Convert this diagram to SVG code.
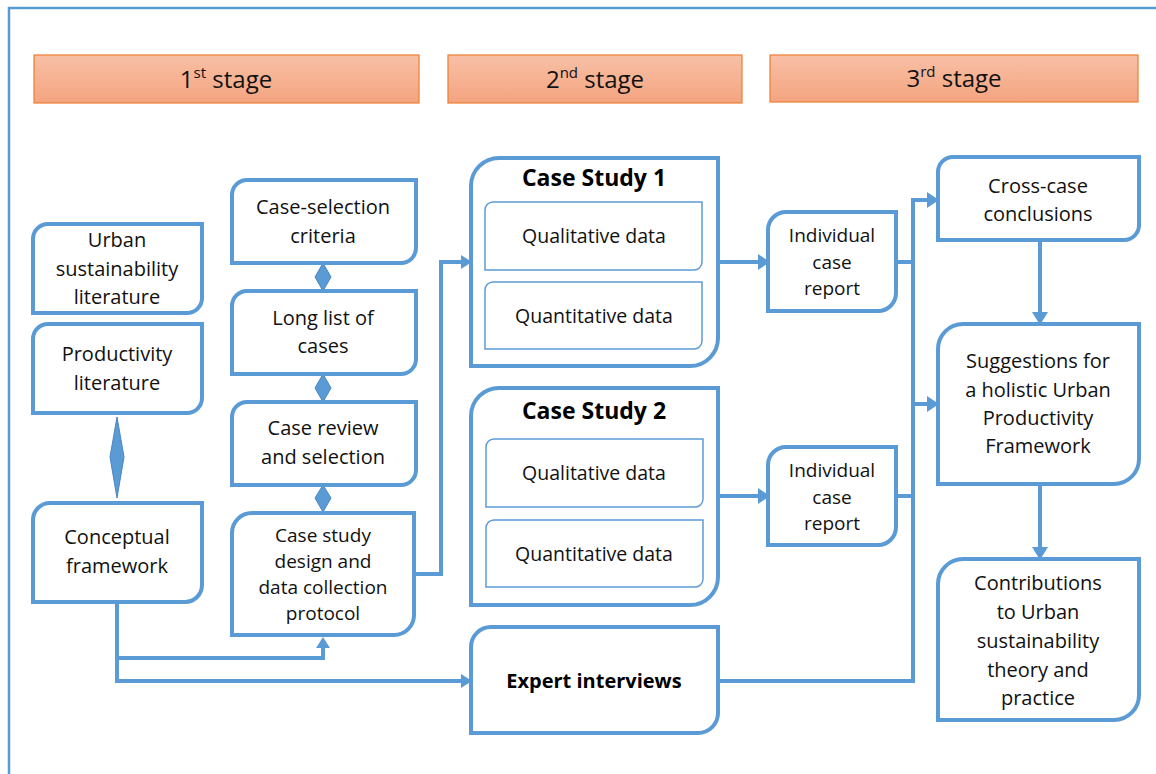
<svg xmlns="http://www.w3.org/2000/svg" width="1156" height="774" viewBox="0 0 1156 774">
<defs>
<linearGradient id="stg" x1="0" y1="0" x2="0" y2="1">
<stop offset="0" stop-color="#F8C0A6"/>
<stop offset="1" stop-color="#F4A47F"/>
</linearGradient>
</defs>
<style>
.box{fill:#fff;stroke:#5B9BD5;stroke-width:4}
.inner{fill:#fff;stroke:#5B9BD5;stroke-width:1.5}
.stage{fill:url(#stg);stroke:#ED7D31;stroke-width:1.2}
.t{font-family:"Open Sans","Noto Sans",sans-serif;font-size:20px;fill:#111;text-anchor:middle}
.ts{font-family:"Open Sans","Noto Sans",sans-serif;font-size:19px;fill:#111;text-anchor:middle}
.tq{font-family:"Open Sans","Noto Sans",sans-serif;font-size:19.5px;fill:#111;text-anchor:middle}
.tb{font-family:"Open Sans","Noto Sans",sans-serif;font-size:23px;font-weight:bold;fill:#000;text-anchor:middle}
.te{font-family:"Open Sans","Noto Sans",sans-serif;font-size:20px;font-weight:bold;fill:#000;text-anchor:middle}
.tst{font-family:"Open Sans","Noto Sans",sans-serif;font-size:24px;fill:#111;text-anchor:middle}
.c{fill:none;stroke:#5B9BD5;stroke-width:4}
.ah{fill:#5B9BD5}
.dia{fill:#5B9BD5;stroke:#4A86C0;stroke-width:1}
</style>
<rect width="1156" height="774" fill="#fff"/>
<path d="M9,774 V8 H1156" fill="none" stroke="#5B9BD5" stroke-width="2.5"/>

<g id="stages">
<rect class="stage" x="34" y="55" width="385" height="48"/>
<text class="tst" x="226" y="88">1<tspan font-size="15" dy="-10">st</tspan><tspan dy="10"> stage</tspan></text>
<rect class="stage" x="448" y="55" width="294" height="48"/>
<text class="tst" x="595" y="88">2<tspan font-size="15" dy="-10">nd</tspan><tspan dy="10"> stage</tspan></text>
<rect class="stage" x="770" y="55" width="368" height="47"/>
<text class="tst" x="954" y="87">3<tspan font-size="15" dy="-10">rd</tspan><tspan dy="10"> stage</tspan></text>
</g>

<g id="connectors">
<path class="c" d="M416,574 H441 V262 H462"/>
<path class="ah" d="M461,255 L472,262 L461,269 Z"/>
<path class="c" d="M117,602 V681 H462"/>
<path class="ah" d="M461,674 L472,681 L461,688 Z"/>
<path class="c" d="M117,658 H323 V647"/>
<path class="ah" d="M316,648 L323,637 L330,648 Z"/>
<path class="c" d="M718,262 H760"/>
<path class="ah" d="M758,254 L770,262 L758,270 Z"/>
<path class="c" d="M718,496 H760"/>
<path class="ah" d="M758,488 L770,496 L758,504 Z"/>
<path class="c" d="M896,262 H913"/>
<path class="c" d="M896,496 H913"/>
<path class="c" d="M718,681 H913 V200 H929"/>
<path class="ah" d="M927,192 L939,200 L927,208 Z"/>
<path class="c" d="M913,404 H929"/>
<path class="ah" d="M927,396 L939,404 L927,412 Z"/>
<path class="c" d="M1040,240 V314"/>
<path class="ah" d="M1032,312 L1040,325 L1048,312 Z"/>
<path class="c" d="M1040,484 V549"/>
<path class="ah" d="M1032,547 L1040,560 L1048,547 Z"/>
<path class="dia" d="M117,417 L124,457 L117,498 L110,457 Z"/>
<path class="dia" d="M323,263 L331,277 L323,291 L315,277 Z"/>
<path class="dia" d="M323,374 L331,388 L323,402 L315,388 Z"/>
<path class="dia" d="M323,485 L331,498 L323,512 L315,498 Z"/>
</g>

<g id="urban-lit">
<path class="box" d="M48,224 H202 V298 A15,15 0 0 1 187,313 H33 V239 A15,15 0 0 1 48,224 Z"/>
<text class="t" x="117" y="247">Urban</text>
<text class="t" x="117" y="276">sustainability</text>
<text class="t" x="117" y="304">literature</text>
</g>
<g id="productivity-lit">
<path class="box" d="M48,324 H202 V398 A15,15 0 0 1 187,413 H33 V339 A15,15 0 0 1 48,324 Z"/>
<text class="t" x="117" y="361">Productivity</text>
<text class="t" x="117" y="390">literature</text>
</g>
<g id="conceptual">
<path class="box" d="M50,503 H202 V585 A17,17 0 0 1 185,602 H33 V520 A17,17 0 0 1 50,503 Z"/>
<text class="t" x="117" y="544">Conceptual</text>
<text class="t" x="117" y="573">framework</text>
</g>
<g id="case-criteria">
<path class="box" d="M247,180 H416 V248 A15,15 0 0 1 401,263 H232 V195 A15,15 0 0 1 247,180 Z"/>
<text class="t" x="323" y="214">Case-selection</text>
<text class="t" x="323" y="243">criteria</text>
</g>
<g id="long-list">
<path class="box" d="M247,291 H416 V359 A15,15 0 0 1 401,374 H232 V306 A15,15 0 0 1 247,291 Z"/>
<text class="t" x="323" y="325">Long list of</text>
<text class="t" x="323" y="353">cases</text>
</g>
<g id="case-review">
<path class="box" d="M247,402 H416 V470 A15,15 0 0 1 401,485 H232 V417 A15,15 0 0 1 247,402 Z"/>
<text class="t" x="323" y="435">Case review</text>
<text class="t" x="323" y="464">and selection</text>
</g>
<g id="case-design">
<path class="box" d="M252,513 H414 V615 A20,20 0 0 1 394,635 H232 V533 A20,20 0 0 1 252,513 Z"/>
<text class="ts" x="323" y="542">Case study</text>
<text class="ts" x="323" y="568">design and</text>
<text class="ts" x="323" y="594">data collection</text>
<text class="ts" x="323" y="620">protocol</text>
</g>
<g id="case-study-1">
<path class="box" d="M499,158 H718 V338 A28,28 0 0 1 690,366 H471 V186 A28,28 0 0 1 499,158 Z"/>
<text class="tb" x="594" y="186">Case Study 1</text>
<path class="inner" d="M493,202 H702 V262 A8,8 0 0 1 694,270 H485 V210 A8,8 0 0 1 493,202 Z"/>
<text class="tq" x="594" y="243">Qualitative data</text>
<path class="inner" d="M493,282 H702 V341 A8,8 0 0 1 694,349 H485 V290 A8,8 0 0 1 493,282 Z"/>
<text class="tq" x="594" y="323">Quantitative data</text>
</g>
<g id="case-study-2">
<path class="box" d="M499,388 H718 V577 A28,28 0 0 1 690,605 H471 V416 A28,28 0 0 1 499,388 Z"/>
<text class="tb" x="594" y="419">Case Study 2</text>
<path class="inner" d="M494,439 H703 V499 A8,8 0 0 1 695,507 H486 V447 A8,8 0 0 1 494,439 Z"/>
<text class="tq" x="594" y="480">Qualitative data</text>
<path class="inner" d="M494,520 H703 V579 A8,8 0 0 1 695,587 H486 V528 A8,8 0 0 1 494,520 Z"/>
<text class="tq" x="594" y="561">Quantitative data</text>
</g>
<g id="expert-interviews">
<path class="box" d="M491,627 H718 V713 A20,20 0 0 1 698,733 H471 V647 A20,20 0 0 1 491,627 Z"/>
<text class="te" x="594" y="688">Expert interviews</text>
</g>
<g id="icr-1">
<path class="box" d="M786,212 H896 V293 A18,18 0 0 1 878,311 H768 V230 A18,18 0 0 1 786,212 Z"/>
<text class="ts" x="832" y="242">Individual</text>
<text class="ts" x="832" y="269">case</text>
<text class="ts" x="832" y="295">report</text>
</g>
<g id="icr-2">
<path class="box" d="M786,447 H896 V527 A18,18 0 0 1 878,545 H768 V465 A18,18 0 0 1 786,447 Z"/>
<text class="ts" x="832" y="477">Individual</text>
<text class="ts" x="832" y="504">case</text>
<text class="ts" x="832" y="530">report</text>
</g>
<g id="cross-case">
<path class="box" d="M953,157 H1139 V225 A15,15 0 0 1 1124,240 H938 V172 A15,15 0 0 1 953,157 Z"/>
<text class="t" x="1038" y="193">Cross-case</text>
<text class="t" x="1038" y="221">conclusions</text>
</g>
<g id="suggestions">
<path class="box" d="M963,324 H1139 V459 A25,25 0 0 1 1114,484 H938 V349 A25,25 0 0 1 963,324 Z"/>
<text class="t" x="1038" y="368">Suggestions for</text>
<text class="t" x="1038" y="397">a holistic Urban</text>
<text class="t" x="1038" y="425">Productivity</text>
<text class="t" x="1038" y="453">Framework</text>
</g>
<g id="contributions">
<path class="box" d="M963,559 H1139 V695 A25,25 0 0 1 1114,720 H938 V584 A25,25 0 0 1 963,559 Z"/>
<text class="t" x="1038" y="590">Contributions</text>
<text class="t" x="1038" y="619">to Urban</text>
<text class="t" x="1038" y="648">sustainability</text>
<text class="t" x="1038" y="677">theory and</text>
<text class="t" x="1038" y="705">practice</text>
</g>
</svg>
